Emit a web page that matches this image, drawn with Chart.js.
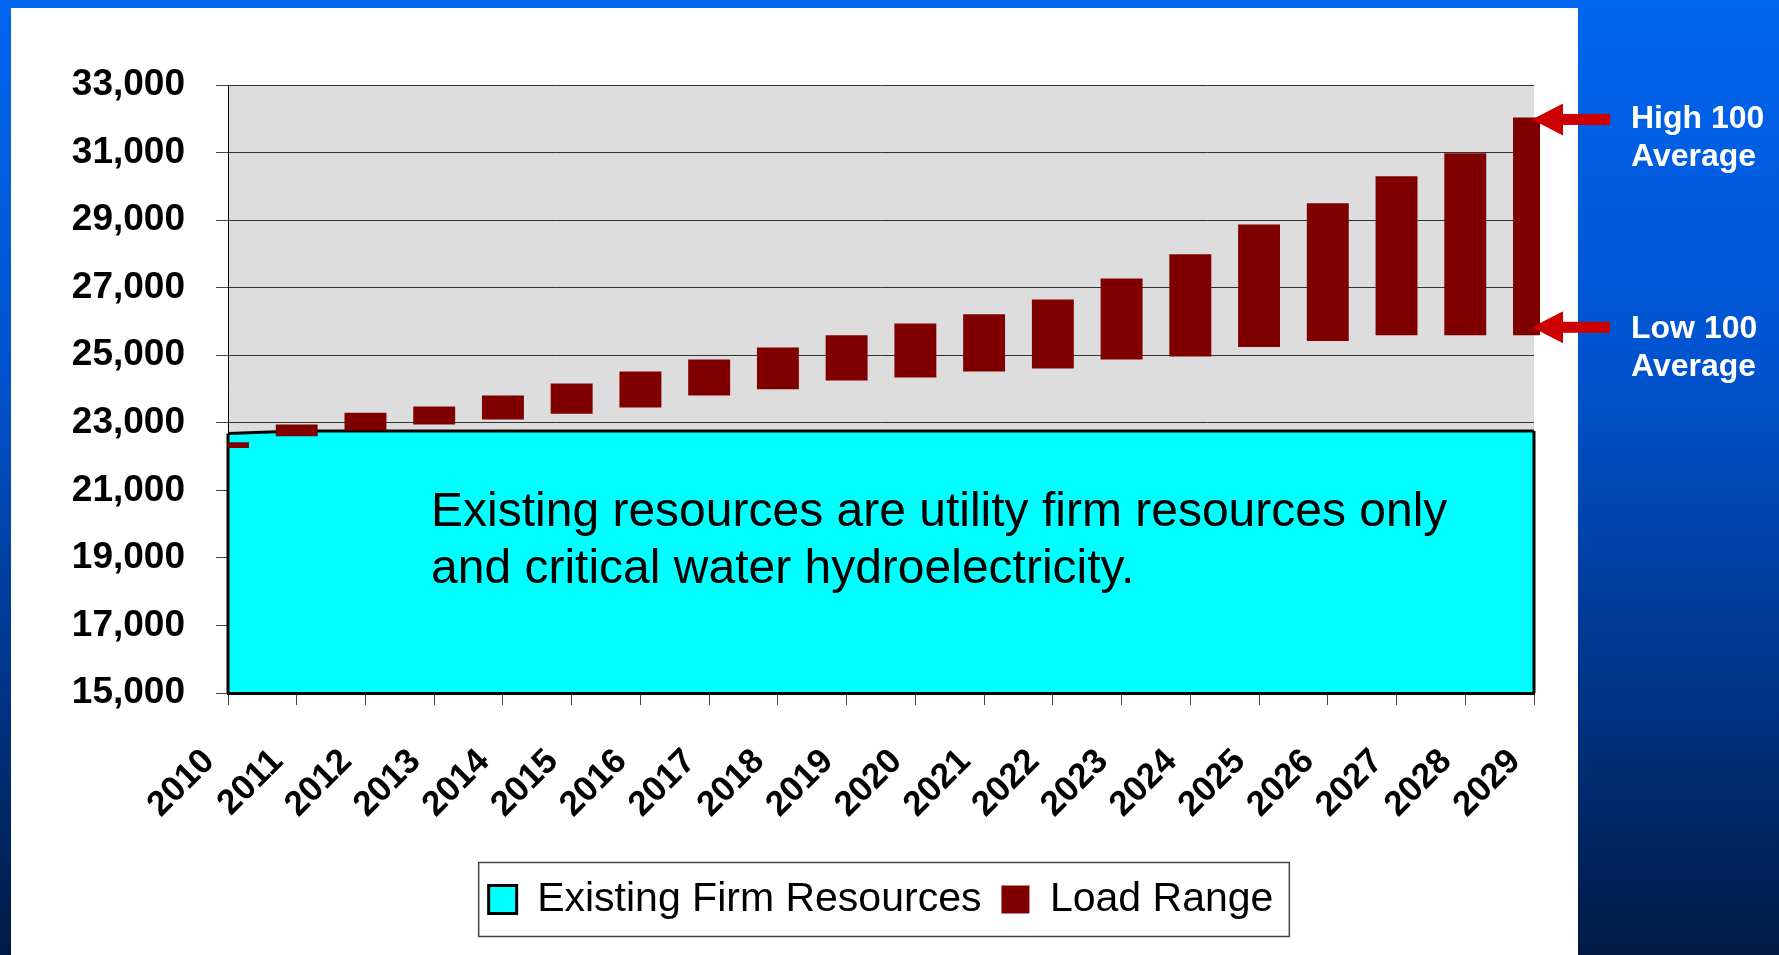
<!DOCTYPE html>
<html>
<head>
<meta charset="utf-8">
<script src="https://cdn.jsdelivr.net/npm/chart.js@4.4.0/dist/chart.umd.min.js"></script>
<style>
  html, body { margin: 0; padding: 0; }
  body {
    width: 1779px; height: 955px; overflow: hidden; position: relative;
    background: linear-gradient(to bottom, #0066f0 0%, #0052cc 40%, #00368c 70%, #001a44 100%);
    font-family: "Liberation Sans", Arial, sans-serif;
  }
  #panel { position: absolute; left: 11px; top: 8px; width: 1567px; height: 947px; background: #fff; }
  #wrap { position: absolute; left: 0; top: 0; width: 1779px; height: 955px; }
  .note { position: absolute; left: 431px; top: 481px; font-size: 48px; line-height: 57px; color: #000; white-space: nowrap; }
  .side { position: absolute; left: 1631px; font-size: 32px; font-weight: bold; line-height: 38px; color: #fff; }
</style>
</head>
<body>
<div id="panel"></div>
<div id="wrap"><canvas id="loadChart"></canvas></div>
<div class="note">Existing resources are utility firm resources only<br>and critical water hydroelectricity.</div>
<div class="side" style="top:98px">High 100<br>Average</div>
<div class="side" style="top:308px">Low 100<br>Average</div>

<script>
// Chart values
const years = ['2010','2011','2012','2013','2014','2015','2016','2017','2018','2019',
               '2020','2021','2022','2023','2024','2025','2026','2027','2028','2029'];
const existingFirm = [22680, 22760, 22760, 22760, 22760, 22760, 22760, 22760, 22760, 22760,
                      22760, 22760, 22760, 22760, 22760, 22760, 22760, 22760, 22760, 22760];
const loadLow  = [22250, 22600, 22770, 22950, 23100, 23270, 23450, 23810, 23990, 24250,
                  24340, 24520, 24610, 24870, 24960, 25240, 25420, 25590, 25590, 25590];
const loadHigh = [22420, 22950, 23300, 23480, 23810, 24160, 24520, 24870, 25230, 25590,
                  25940, 26210, 26650, 27270, 27990, 28870, 29500, 30300, 30980, 32040];
const yMin = 15000, yMax = 33000, yStep = 2000;

const yFont = { family: 'Liberation Sans', size: 37, weight: 'bold' };
const xFont = { family: 'Liberation Sans', size: 35, weight: 'bold' };

// grey plot background
const plotBackground = {
    id: 'plotBackground',
    beforeDraw(chart) {
        const { ctx, chartArea: a } = chart;
        ctx.save();
        ctx.fillStyle = '#dddddd';
        ctx.fillRect(a.left, a.top, a.right - a.left, a.bottom - a.top);
        ctx.restore();
    }
};

// black side edges of the resources area
const areaEdges = {
    id: 'areaEdges',
    afterDatasetDraw(chart, args) {
        if (args.index !== 0) return;
        const pts = args.meta.data;
        const { ctx, chartArea: a } = chart;
        ctx.save();
        ctx.strokeStyle = '#000';
        ctx.lineWidth = 3;
        [pts[0], pts[pts.length - 1]].forEach(p => {
            ctx.beginPath();
            ctx.moveTo(p.x, p.y);
            ctx.lineTo(p.x, a.bottom);
            ctx.stroke();
        });
        ctx.restore();
    }
};

// red arrows pointing at the last load range bar
const rangeArrows = {
    id: 'rangeArrows',
    afterDraw(chart) {
        const { ctx, chartArea: a } = chart;
        const y = chart.scales.y;
        const last = years.length - 1;
        const tip = a.right - 2;
        const marks = [y.getPixelForValue(loadHigh[last]) + 2, y.getPixelForValue(loadLow[last]) - 8];
        ctx.save();
        ctx.fillStyle = '#cc0000';
        marks.forEach(py => {
            ctx.beginPath();
            ctx.moveTo(tip, py);
            ctx.lineTo(tip + 31, py - 16);
            ctx.lineTo(tip + 31, py + 16);
            ctx.closePath();
            ctx.fill();
            ctx.fillRect(tip + 30, py - 5.5, 48, 11);
        });
        ctx.restore();
    }
};

// frame around the legend
const legendFrame = {
    id: 'legendFrame',
    afterDraw(chart) {
        const boxes = chart.legend && chart.legend.legendHitBoxes;
        if (!boxes || !boxes.length) return;
        const left = Math.min(...boxes.map(b => b.left)) - 10;
        const right = Math.max(...boxes.map(b => b.left + b.width)) + 16;
        const cy = boxes[0].top + boxes[0].height / 2;
        const ctx = chart.ctx;
        ctx.save();
        ctx.strokeStyle = '#444';
        ctx.lineWidth = 1.5;
        ctx.strokeRect(left, cy - 37, right - left, 74);
        ctx.restore();
    }
};

const ctx = document.getElementById('loadChart').getContext('2d');
const loadChart = new Chart(ctx, {
    type: 'bar',
    data: {
        labels: years,
        datasets: [
            {
                type: 'line',
                label: 'Existing Firm Resources',
                data: existingFirm,
                borderColor: '#000',
                borderWidth: 3,
                backgroundColor: '#00ffff',
                fill: 'start',
                tension: 0,
                pointRadius: 0,
                order: 1
            },
            {
                type: 'bar',
                label: 'Load Range',
                data: loadLow.map((v, i) => [v, loadHigh[i]]),
                backgroundColor: '#800000',
                borderWidth: 0,
                barPercentage: 0.61,
                categoryPercentage: 1,
                clip: { left: 0, top: 0, right: 6, bottom: 0 },
                order: 0
            }
        ]
    },
    options: {
        responsive: true,
        maintainAspectRatio: false,
        animation: false,
        devicePixelRatio: 1,
        layout: { padding: { left: 48, top: 85, right: 245, bottom: 25 } },
        plugins: {
            tooltip: { enabled: false },
            legend: {
                position: 'bottom',
                fullSize: false,
                labels: {
                    color: '#000',
                    font: { family: 'Liberation Sans', size: 41 },
                    boxWidth: 28,
                    boxHeight: 28,
                    padding: 20,
                    sort: (a, b) => a.datasetIndex - b.datasetIndex
                }
            }
        },
        scales: {
            x: {
                offset: false,
                grid: { offset: false, drawOnChartArea: false, drawTicks: true, tickLength: 12, color: '#444' },
                border: { color: '#000', width: 3, z: 1 },
                ticks: {
                    color: '#000',
                    font: xFont,
                    minRotation: 45,
                    maxRotation: 45,
                    autoSkip: false,
                    padding: 36,
                    labelOffset: -19
                },
                afterFit(s) { s.height = 166; }
            },
            y: {
                min: yMin,
                max: yMax,
                grid: { color: '#333', lineWidth: 1, tickLength: 12, tickColor: '#444' },
                border: { color: '#000', width: 1 },
                ticks: {
                    stepSize: yStep,
                    color: '#000',
                    font: yFont,
                    padding: 31,
                    callback: v => v.toLocaleString('en-US')
                },
                afterFit(s) { s.width = 180; }
            }
        }
    },
    plugins: [plotBackground, areaEdges, rangeArrows, legendFrame]
});
</script>
</body>
</html>
